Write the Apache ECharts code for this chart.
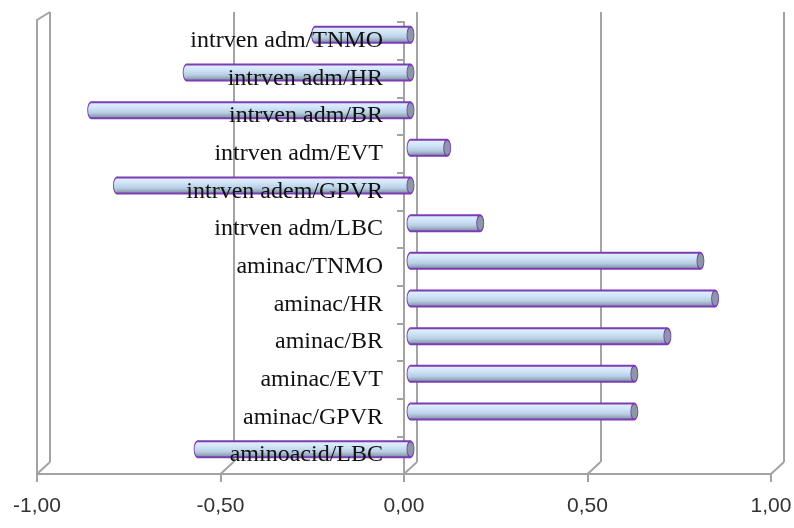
<!DOCTYPE html>
<html>
<head>
<meta charset="utf-8">
<script src="https://cdn.jsdelivr.net/npm/echarts@6/dist/echarts.min.js"></script>
<style>
  html, body { margin: 0; padding: 0; background: #ffffff; }
  #chart { width: 794px; height: 528px; }
</style>
</head>
<body>
<div id="chart"></div>
<script>
// Categories listed bottom-to-top, as the category axis draws them
const categories = [
  'aminoacid/LBC',
  'aminac/GPVR',
  'aminac/EVT',
  'aminac/BR',
  'aminac/HR',
  'aminac/TNMO',
  'intrven adm/LBC',
  'intrven adem/GPVR',
  'intrven adm/EVT',
  'intrven adm/BR',
  'intrven adm/HR',
  'intrven adm/TNMO'
];
const values = [-0.58, 0.61, 0.61, 0.70, 0.83, 0.79, 0.19, -0.80, 0.10, -0.87, -0.61, -0.26];
const xTicks = [-1, -0.5, 0, 0.5, 1];

// Plot box of the front plane
const W = 794, H = 528;
const LEFT = 37, RIGHT = 23, TOP = 22, BOTTOM = 54;
// Oblique depth of the 3D box (back wall offset from the front plane)
const DEPTH_X = 13;
const DEPTH_Y = -12;
const FRAME = '#a3a3a3';
const OUTLINE = '#7a3db5';

const chart = echarts.init(document.getElementById('chart'), null, { renderer: 'canvas' });

const fmt = v => v.toFixed(2).replace('.', ',');

const barFill = new echarts.graphic.LinearGradient(0, 0, 0, 1, [
  { offset: 0, color: '#e6f1fc' },
  { offset: 0.35, color: '#cfe4f8' },
  { offset: 0.65, color: '#b9cfe4' },
  { offset: 1, color: '#7e8fa0' }
]);

function ellipse(cx, cy, rx, ry, style) {
  return {
    type: 'circle',
    shape: { cx: 0, cy: 0, r: ry },
    x: cx, y: cy,
    scaleX: rx / ry,
    style: Object.assign({ strokeNoScale: true }, style)
  };
}

// Cylinder bars sit halfway into the box depth
function renderBar(params, api) {
  const v = api.value(0);
  const c = api.value(1);
  const p0 = api.coord([0, c]);
  const p1 = api.coord([v, c]);
  const dx = DEPTH_X / 2, dy = DEPTH_Y / 2;
  const xa = Math.min(p0[0], p1[0]) + dx;
  const xb = Math.max(p0[0], p1[0]) + dx;
  const cy = p0[1] + dy;
  const ry = 8, rx = 3.5;
  return {
    type: 'group',
    children: [
      ellipse(xa, cy, rx, ry, { fill: barFill, stroke: OUTLINE, lineWidth: 2 }),
      { type: 'rect', shape: { x: xa, y: cy - ry, width: xb - xa, height: ry * 2 }, style: { fill: barFill } },
      { type: 'line', shape: { x1: xa, y1: cy - ry, x2: xb, y2: cy - ry }, style: { stroke: OUTLINE, lineWidth: 2 } },
      { type: 'line', shape: { x1: xa, y1: cy + ry, x2: xb, y2: cy + ry }, style: { stroke: OUTLINE, lineWidth: 2 } },
      ellipse(xb, cy, rx, ry, { fill: '#8b98a6', stroke: OUTLINE, lineWidth: 2 })
    ]
  };
}

// Floor edges joining front ticks to the back wall, plus the left wall edge
function renderFrame(params, api) {
  const cs = params.coordSys;
  const bottom = cs.y + cs.height;
  const children = xTicks.map(t => {
    const x = api.coord([t, 0])[0];
    return {
      type: 'line',
      shape: { x1: x, y1: bottom, x2: x + DEPTH_X, y2: bottom + DEPTH_Y },
      style: { stroke: FRAME, lineWidth: 2 }
    };
  });
  const xl = api.coord([xTicks[0], 0])[0];
  children.push({
    type: 'polyline',
    shape: { points: [[xl, bottom], [xl, cs.y - 2], [xl + DEPTH_X, cs.y - 10]] },
    style: { stroke: FRAME, lineWidth: 2, fill: null }
  });
  return { type: 'group', children };
}

// The x range is symmetric, so zero sits at the middle of the plot box
const zeroOffset = -(W - LEFT - RIGHT) / 2;

chart.setOption({
  animation: false,
  backgroundColor: '#ffffff',
  grid: [
    { left: LEFT, right: RIGHT, top: TOP, bottom: BOTTOM, containLabel: false, outerBoundsMode: 'none' },
    { left: LEFT + DEPTH_X, right: RIGHT - DEPTH_X, top: TOP - 10, bottom: BOTTOM - DEPTH_Y, containLabel: false, outerBoundsMode: 'none' }
  ],
  xAxis: [
    {
      type: 'value', gridIndex: 0, min: -1, max: 1, interval: 0.5,
      axisLine: { show: true, lineStyle: { color: FRAME, width: 2 } },
      axisTick: { show: true, length: 8, lineStyle: { color: FRAME, width: 2 } },
      axisLabel: {
        formatter: fmt, margin: 22, color: '#333333',
        fontFamily: 'Liberation Sans', fontSize: 21
      },
      splitLine: { show: false }
    },
    {
      type: 'value', gridIndex: 1, min: -1, max: 1, interval: 0.5,
      axisLine: { show: false }, axisTick: { show: false }, axisLabel: { show: false },
      splitLine: { show: true, lineStyle: { color: FRAME, width: 2 } }
    }
  ],
  yAxis: [
    {
      type: 'category', gridIndex: 0, data: categories, z: 1,
      axisLine: { show: true, onZero: true, onZeroAxisIndex: 0, lineStyle: { color: FRAME, width: 2 } },
      axisTick: { show: true, length: 7, lineStyle: { color: FRAME, width: 2 } },
      axisLabel: { show: false },
      splitLine: { show: false }
    },
    {
      type: 'category', gridIndex: 0, data: categories, position: 'left', z: 10,
      offset: zeroOffset,
      axisLine: { show: false, onZero: false },
      axisTick: { show: false },
      axisLabel: {
        margin: 21, color: '#111111',
        fontFamily: 'Liberation Serif', fontSize: 24
      },
      splitLine: { show: false }
    },
    {
      type: 'value', gridIndex: 1, show: false
    }
  ],
  series: [
    {
      type: 'custom', name: 'frame', xAxisIndex: 0, yAxisIndex: 0, z: 1,
      renderItem: renderFrame, data: [[0, 0]], silent: true
    },
    {
      type: 'custom', name: 'values', xAxisIndex: 0, yAxisIndex: 0, z: 3,
      renderItem: renderBar,
      encode: { x: 0, y: 1 },
      data: values.map((v, i) => [v, i])
    }
  ]
});
</script>
</body>
</html>
